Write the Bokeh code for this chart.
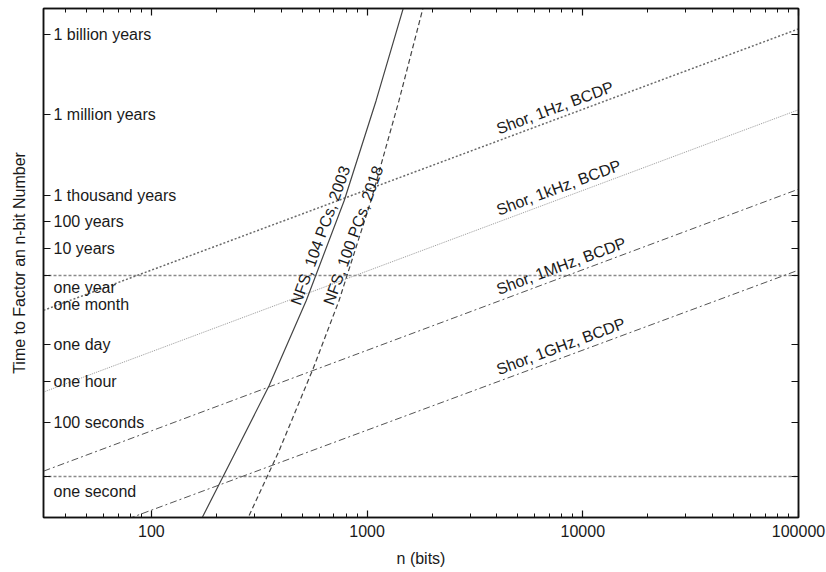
import numpy as np
from bokeh.plotting import figure
from bokeh.models import LogAxis, FixedTicker, Range1d, ColumnDataSource
from bokeh.core.properties import value
from bokeh.embed import file_html
from bokeh.resources import INLINE

# ---------------- data ----------------
x_start, x_end = 31.6, 100000          # n (bits)
y_start, y_end = 10 ** -1.53, 10 ** 17.46  # seconds

x_tick_values = [100, 1000, 10000, 100000]
x_tick_labels = ["100", "1000", "10000", "100000"]

y_tick_values = [1, 100, 3600, 86400, 3.156e7, 3.156e8, 3.156e9, 3.156e10, 3.156e13, 3.156e16]
y_label_texts = ["one second", "100 seconds", "one hour", "one day", "one month", "one year",
                 "10 years", "100 years", "1 thousand years", "1 million years", "1 billion years"]
y_label_values = [1, 100, 3600, 86400, 2.63e6, 3.156e7, 3.156e8, 3.156e9, 3.156e10, 3.156e13, 3.156e16]

ref_line_values = [1, 3.156e7]  # one second, one year

shor_n = [31.6, 100000]
shor_1hz_t = [1.58e6, 5.0e16]
shor_1khz_t = [1.41e3, 4.8e13]
shor_1mhz_t = [1.58, 5.25e10]
shor_1ghz_t = [1.78e-3, 5.0e7]
shor_labels = ["Shor, 1Hz, BCDP", "Shor, 1kHz, BCDP", "Shor, 1MHz, BCDP", "Shor, 1GHz, BCDP"]
shor_label_n = 4000

nfs2003_n = [160.7, 247.5, 351.6, 522.4, 783.4, 1101.5, 1538]
nfs2003_t = [1e-2, 9.33, 2489, 3.69e6, 1.99e10, 1.07e14, 1e18]
nfs2018_n = [264.2, 391.3, 562.3, 741.3, 1043, 1406, 1888]
nfs2018_t = [1e-2, 9.33, 1.07e4, 3.69e6, 1.99e10, 1.07e14, 1e18]
nfs_labels = ["NFS, 104 PCs, 2003", "NFS, 100 PCs, 2018"]
nfs_label_t = 3.69e6

# ---------------- styles ----------------
FONT = "Liberation Sans"
FS = "16px"
TXT = "#1a1a1a"

p = figure(width=826, height=572, x_axis_type="log", y_axis_type="log",
           x_range=Range1d(x_start, x_end), y_range=Range1d(y_start, y_end),
           output_backend="svg", toolbar_location=None,
           min_border_left=43, min_border_right=28, min_border_top=8, min_border_bottom=55)
p.grid.visible = False
p.outline_line_color = "#111111"
p.outline_line_width = 1.5
p.background_fill_color = "white"
p.border_fill_color = "white"

minor_x = [k * 10 ** e for e in range(1, 5) for k in range(2, 10) if x_start <= k * 10 ** e <= x_end]
xt = FixedTicker(ticks=x_tick_values, minor_ticks=minor_x)
yt = FixedTicker(ticks=y_tick_values, minor_ticks=[])

def style_axis(ax, labels=True):
    ax.axis_line_color = "#111111"
    ax.axis_line_width = 1.5
    ax.major_tick_in = 7
    ax.major_tick_out = 0
    ax.minor_tick_in = 4
    ax.minor_tick_out = 0
    ax.major_tick_line_color = "#111111"
    ax.minor_tick_line_color = "#111111"
    ax.major_tick_line_width = 1.2
    ax.major_label_text_font = FONT
    ax.major_label_text_color = TXT
    ax.axis_label_text_font = FONT
    ax.axis_label_text_font_style = "normal"
    ax.axis_label_text_color = TXT
    ax.axis_label_text_font_size = FS
    if not labels:
        ax.major_label_text_font_size = "1px"
        ax.major_label_text_alpha = 0
        ax.major_label_standoff = 0

xa = p.xaxis[0]
xa.ticker = xt
xa.major_label_overrides = {v: s for v, s in zip(x_tick_values, x_tick_labels)}
style_axis(xa)
xa.major_label_text_font_size = FS
xa.major_label_standoff = 7
xa.axis_label = "n (bits)"
xa.axis_label_standoff = 10

ya = p.yaxis[0]
ya.ticker = yt
style_axis(ya, labels=False)
ya.axis_label = "Time to Factor an n-bit Number"
ya.axis_label_standoff = 16

top = LogAxis(ticker=xt)
style_axis(top, labels=False)
p.add_layout(top, "above")
right = LogAxis(ticker=yt)
style_axis(right, labels=False)
p.add_layout(right, "right")

# reference horizontal lines
for v in ref_line_values:
    p.line([x_start, x_end], [v, v], line_color="#8a8a8a", line_width=1.3, line_dash="3 2")

# Shor lines
shor_series = [shor_1hz_t, shor_1khz_t, shor_1mhz_t, shor_1ghz_t]
shor_styles = [dict(line_color="#6a6a6a", line_width=1.5, line_dash="2 2"),
               dict(line_color="#9a9a9a", line_width=1.0, line_dash="1 1"),
               dict(line_color="#555555", line_width=1.0, line_dash="7 3 2 3"),
               dict(line_color="#555555", line_width=1.0, line_dash="7 3 2 3")]
for t, st in zip(shor_series, shor_styles):
    p.line(shor_n, t, **st)

# NFS curves
p.line(nfs2003_n, nfs2003_t, line_color="#444444", line_width=1.2)
p.line(nfs2018_n, nfs2018_t, line_color="#444444", line_width=1.2, line_dash="5 3")

# Shor labels anchored on their lines
lab_t = [10 ** np.interp(np.log10(shor_label_n), np.log10(shor_n), np.log10(t)) for t in shor_series]
src_s = ColumnDataSource(dict(x=[shor_label_n] * 4, y=lab_t, text=shor_labels))
p.text("x", "y", "text", source=src_s, angle=np.radians(20.4), text_align="left",
       text_baseline="alphabetic", y_offset=-12, text_font=value(FONT), text_font_size=FS,
       text_color=TXT)

# NFS labels anchored on their curves
nfs_lab_n = [10 ** np.interp(np.log10(nfs_label_t), np.log10(nfs2003_t), np.log10(nfs2003_n)),
             10 ** np.interp(np.log10(nfs_label_t), np.log10(nfs2018_t), np.log10(nfs2018_n))]
src_n = ColumnDataSource(dict(x=nfs_lab_n, y=[nfs_label_t] * 2, text=nfs_labels))
p.text("x", "y", "text", source=src_n, angle=np.radians(70), text_align="left",
       text_baseline="alphabetic", x_offset=-11, y_offset=4, text_font=value(FONT),
       text_font_size=FS, text_color=TXT)

# Y tick labels drawn inside the frame
y_off = {"one second": 15, "one year": 12}
src_y = ColumnDataSource(dict(x=[x_start] * len(y_label_texts), y=y_label_values,
                              text=y_label_texts,
                              yo=[y_off.get(s, 0) for s in y_label_texts]))
p.text("x", "y", "text", source=src_y, x_offset=10, y_offset="yo", text_align="left",
       text_baseline="middle", text_font=value(FONT), text_font_size=FS, text_color=TXT)

open("out.html", "w").write(file_html(p, INLINE))
